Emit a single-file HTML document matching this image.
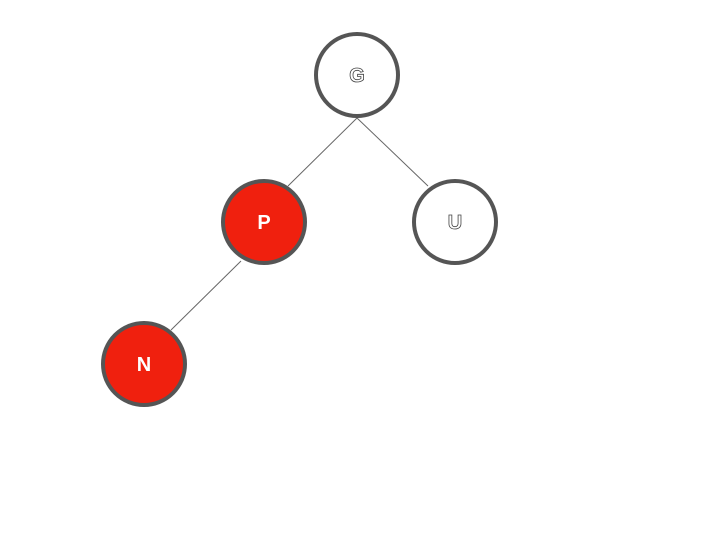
<!DOCTYPE html>
<html><head><meta charset="utf-8"><style>
html,body{margin:0;padding:0;background:#fff;}
svg{display:block;}
text{font-family:"Liberation Sans",sans-serif;font-weight:bold;font-size:20px;}
</style></head><body>
<svg width="720" height="540" id="svg"></svg>
<script>
const nodeLabels=["G","P","U","N"];
const nodeX=[357,264,455,144];
const nodeY=[75,222,222,364];
const nodeRed=[false,true,false,true];
const parents=[-1,0,0,1];
const R=41;
const svg=document.getElementById('svg');
const NS='http://www.w3.org/2000/svg';
// edge endpoint offsets relative to parent / child centres
const startDX=[0,0,0,-23];
const startDY=[0,43,43,39];
const endDX=[0,24,-27,27];
const endDY=[0,-36,-36,-34];
for(let i=0;i<nodeLabels.length;i++){
  const p=parents[i]; if(p<0) continue;
  const l=document.createElementNS(NS,'line');
  
  
  l.setAttribute('x1',nodeX[p]+startDX[i]);l.setAttribute('y1',nodeY[p]+startDY[i]);
  l.setAttribute('x2',nodeX[i]+endDX[i]);l.setAttribute('y2',nodeY[i]+endDY[i]);
  l.setAttribute('stroke','#666');l.setAttribute('stroke-width','1');
  svg.appendChild(l);
}
for(let i=0;i<nodeLabels.length;i++){
  const g=document.createElementNS(NS,'g');
  
  
  const c=document.createElementNS(NS,'circle');
  c.setAttribute('cx',nodeX[i]);c.setAttribute('cy',nodeY[i]);c.setAttribute('r',R);
  c.setAttribute('fill',nodeRed[i]?'#f0200e':'#fff');
  c.setAttribute('stroke','#555');c.setAttribute('stroke-width','4');
  g.appendChild(c);
  const t=document.createElementNS(NS,'text');
  t.setAttribute('x',nodeX[i]);t.setAttribute('y',nodeY[i]+7);
  t.setAttribute('text-anchor','middle');
  t.setAttribute('fill','#fff');
  if(!nodeRed[i]){t.setAttribute('stroke','#444');t.setAttribute('stroke-width','0.8');}
  t.textContent=nodeLabels[i];
  g.appendChild(t);
  svg.appendChild(g);
}
</script>
</body></html>
